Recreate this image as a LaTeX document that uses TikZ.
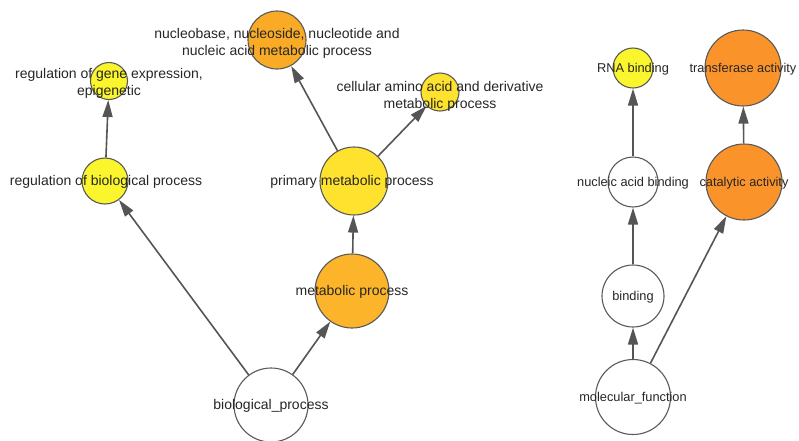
\documentclass[tikz,border=0pt]{standalone}
\usepackage{fontspec}
\setmainfont{Liberation Sans}
\usetikzlibrary{arrows.meta}
\definecolor{termline}{HTML}{5A5A5A}
\definecolor{edgeline}{HTML}{555555}
\definecolor{lemon}{HTML}{FAF52C}
\definecolor{gold}{HTML}{FFE22E}
\definecolor{amber}{HTML}{FCB42A}
\definecolor{tangerine}{HTML}{F9AB26}
\definecolor{pumpkin}{HTML}{FB932B}
\tikzset{
  term/.style={
    circle,
    draw=termline,
    line width=1.1pt,
    inner sep=0pt
  },
  termlabel/.style={
    text=black!85,
    align=center,
    inner sep=0pt,
    yshift=-1pt,
    font=\fontsize{12.8}{17}\selectfont
  },
  widelabel/.style={
    termlabel,
    font=\fontsize{14}{17}\selectfont
  },
  arrow/.style={-{Triangle[length=17pt,width=10pt]}, line width=1.6pt, draw=edgeline}
}

\begin{document}
\begin{tikzpicture}[x=1pt,y=-1pt]
  \useasboundingbox (0,0) rectangle (799,440);
  \node[term, fill=lemon, minimum size=37pt] (geneexpr) at (109,81) {};
  \node[term, fill=tangerine, minimum size=58pt] (nucleobase) at (277,40) {};
  \node[term, fill=gold, minimum size=38pt] (aminoacid) at (440,92) {};
  \node[term, fill=lemon, minimum size=46pt] (regbio) at (105,181) {};
  \node[term, fill=gold, minimum size=68pt] (primary) at (354,181) {};
  \node[term, fill=amber, minimum size=74pt] (metabolic) at (352,291) {};
  \node[term, fill=white, minimum size=74pt] (bioproc) at (271,405) {};
  \node[term, fill=lemon, minimum size=40pt] (rnabind) at (633,68) {};
  \node[term, fill=pumpkin, minimum size=76pt] (transferase) at (743,68) {};
  \node[term, fill=white, minimum size=50pt] (nucacid) at (633,182) {};
  \node[term, fill=pumpkin, minimum size=76pt] (catalytic) at (744,182) {};
  \node[term, fill=white, minimum size=62pt] (binding) at (633,296) {};
  \node[term, fill=white, minimum size=75pt] (molfunc) at (633,397) {};

  \draw[arrow] (bioproc) -- (regbio);
  \draw[arrow] (bioproc) -- (metabolic);
  \draw[arrow] (metabolic) -- (primary);
  \draw[arrow] (primary) -- (nucleobase);
  \draw[arrow] (primary) -- (aminoacid);
  \draw[arrow] (regbio) -- (geneexpr);
  \draw[arrow] (molfunc) -- (binding);
  \draw[arrow] (molfunc) -- (catalytic);
  \draw[arrow] (binding) -- (nucacid);
  \draw[arrow] (nucacid) -- (rnabind);
  \draw[arrow] (catalytic) -- (transferase);

  \node[widelabel] (geneexpr-text) at ([yshift=-1pt]geneexpr.center) {regulation of gene expression,\\epigenetic};
  \node[widelabel] (nucleobase-text) at ([yshift=-2pt]nucleobase.center) {nucleobase, nucleoside, nucleotide and\\nucleic acid metabolic process};
  \node[widelabel] (aminoacid-text) at ([yshift=-3pt]aminoacid.center) {cellular amino acid and derivative\\metabolic process};
  \node[widelabel] (regbio-text) at ([xshift=1pt]regbio.center) {regulation of biological process};
  \node[widelabel] (primary-text) at ([xshift=-2pt]primary.center) {primary metabolic process};
  \node[widelabel] (metabolic-text) at (metabolic.center) {metabolic process};
  \node[widelabel] (bioproc-text) at (bioproc.center) {biological\_process};
  \node[termlabel] (rnabind-text) at (rnabind.center) {RNA binding};
  \node[termlabel] (transferase-text) at (transferase.center) {transferase activity};
  \node[termlabel] (nucacid-text) at (nucacid.center) {nucleic acid binding};
  \node[termlabel] (catalytic-text) at (catalytic.center) {catalytic activity};
  \node[termlabel] (binding-text) at (binding.center) {binding};
  \node[termlabel] (molfunc-text) at (molfunc.center) {molecular\_function};
\end{tikzpicture}
\end{document}
